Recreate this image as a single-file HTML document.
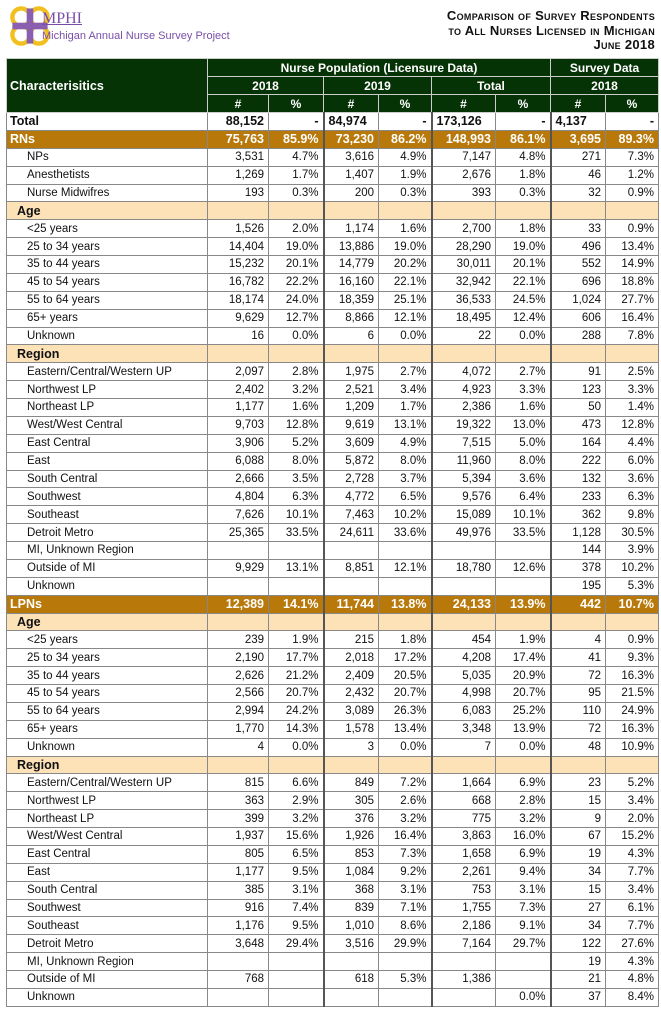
<!DOCTYPE html>
<html><head><meta charset="utf-8">
<style>
body{margin:0;width:661px;height:1010px;background:#fff;font-family:"Liberation Sans",sans-serif;position:relative;overflow:hidden}
.logo{position:absolute;left:8px;top:4px}
.title{position:absolute;right:6px;top:9px;text-align:right;font-weight:bold;font-variant:small-caps;font-size:13px;line-height:14.5px;color:#111;letter-spacing:0.3px}
table{position:absolute;left:6px;top:58px;border-collapse:collapse;table-layout:fixed;font-size:11.5px;color:#111}
td{border:1px solid #888;padding:0 4px;height:17.88px;text-align:right;white-space:nowrap;overflow:hidden;box-sizing:border-box}
td.l{text-align:left;padding-left:20px}
tr.h td{background:#063306;color:#fff;font-weight:bold;text-align:center;height:18px;border:1px solid #ccc;font-size:12px}
tr.h td.c0{text-align:left;padding-left:3px;font-size:12.5px}
tr.t td{font-weight:bold;font-size:12.5px}
tr.t td.l{padding-left:3px}
tr.r td{background:#b8780a;color:#fff;font-weight:bold;font-size:12.5px}
tr.r td.l{padding-left:3px}
tr.s td{background:#fde2b8;font-weight:bold;font-size:12.5px}
tr.s td.l{padding-left:10px}
td.g{border-left:2px solid #555}
</style></head><body>
<div class="logo">
<svg width="44" height="44" viewBox="0 0 40 40"><g fill="none" stroke="#f2c01e" stroke-width="4"><circle cx="12" cy="12" r="8"/><circle cx="28" cy="12" r="8"/><circle cx="12" cy="28" r="8"/><circle cx="28" cy="28" r="8"/></g><rect x="17" y="4" width="6" height="32" fill="#8a5fb0"/><rect x="4" y="17" width="32" height="6" fill="#8a5fb0"/></svg>
<span style="position:absolute;left:34px;top:6px;font-family:'Liberation Serif',serif;font-size:16px;color:#7a4ea8;text-decoration:underline">MPHI</span>
<span style="position:absolute;left:34px;top:26px;font-size:11px;color:#7a4ea8;white-space:nowrap">Michigan Annual Nurse Survey Project</span>
</div>
<div class="title">Comparison of Survey Respondents<br>to All Nurses Licensed in Michigan<br>June 2018</div>
<table>
<colgroup><col style="width:201px"><col style="width:61px"><col style="width:55px"><col style="width:55px"><col style="width:53px"><col style="width:64px"><col style="width:55px"><col style="width:55px"><col style="width:53px"></colgroup>
<tr class="h"><td class="c0" rowspan="3">Characterisitics</td><td colspan="6">Nurse Population (Licensure Data)</td><td colspan="2">Survey Data</td></tr>
<tr class="h"><td colspan="2">2018</td><td colspan="2">2019</td><td colspan="2">Total</td><td colspan="2">2018</td></tr>
<tr class="h"><td>#</td><td>%</td><td>#</td><td>%</td><td>#</td><td>%</td><td>#</td><td>%</td></tr>
<tr class="t"><td class="l">Total</td><td>88,152</td><td>-</td><td class="g" style="text-align:left">84,974</td><td>-</td><td class="g" style="text-align:left">173,126</td><td>-</td><td class="g" style="text-align:left">4,137</td><td>-</td></tr>
<tr class="r"><td class="l">RNs</td><td>75,763</td><td>85.9%</td><td class="g">73,230</td><td>86.2%</td><td class="g">148,993</td><td>86.1%</td><td class="g">3,695</td><td>89.3%</td></tr>
<tr><td class="l">NPs</td><td>3,531</td><td>4.7%</td><td class="g">3,616</td><td>4.9%</td><td class="g">7,147</td><td>4.8%</td><td class="g">271</td><td>7.3%</td></tr>
<tr><td class="l">Anesthetists</td><td>1,269</td><td>1.7%</td><td class="g">1,407</td><td>1.9%</td><td class="g">2,676</td><td>1.8%</td><td class="g">46</td><td>1.2%</td></tr>
<tr><td class="l">Nurse Midwifres</td><td>193</td><td>0.3%</td><td class="g">200</td><td>0.3%</td><td class="g">393</td><td>0.3%</td><td class="g">32</td><td>0.9%</td></tr>
<tr class="s"><td class="l">Age</td><td></td><td></td><td class="g"></td><td></td><td class="g"></td><td></td><td class="g"></td><td></td></tr>
<tr><td class="l">&lt;25 years</td><td>1,526</td><td>2.0%</td><td class="g">1,174</td><td>1.6%</td><td class="g">2,700</td><td>1.8%</td><td class="g">33</td><td>0.9%</td></tr>
<tr><td class="l">25 to 34 years</td><td>14,404</td><td>19.0%</td><td class="g">13,886</td><td>19.0%</td><td class="g">28,290</td><td>19.0%</td><td class="g">496</td><td>13.4%</td></tr>
<tr><td class="l">35 to 44 years</td><td>15,232</td><td>20.1%</td><td class="g">14,779</td><td>20.2%</td><td class="g">30,011</td><td>20.1%</td><td class="g">552</td><td>14.9%</td></tr>
<tr><td class="l">45 to 54 years</td><td>16,782</td><td>22.2%</td><td class="g">16,160</td><td>22.1%</td><td class="g">32,942</td><td>22.1%</td><td class="g">696</td><td>18.8%</td></tr>
<tr><td class="l">55 to 64 years</td><td>18,174</td><td>24.0%</td><td class="g">18,359</td><td>25.1%</td><td class="g">36,533</td><td>24.5%</td><td class="g">1,024</td><td>27.7%</td></tr>
<tr><td class="l">65+ years</td><td>9,629</td><td>12.7%</td><td class="g">8,866</td><td>12.1%</td><td class="g">18,495</td><td>12.4%</td><td class="g">606</td><td>16.4%</td></tr>
<tr><td class="l">Unknown</td><td>16</td><td>0.0%</td><td class="g">6</td><td>0.0%</td><td class="g">22</td><td>0.0%</td><td class="g">288</td><td>7.8%</td></tr>
<tr class="s"><td class="l">Region</td><td></td><td></td><td class="g"></td><td></td><td class="g"></td><td></td><td class="g"></td><td></td></tr>
<tr><td class="l">Eastern/Central/Western UP</td><td>2,097</td><td>2.8%</td><td class="g">1,975</td><td>2.7%</td><td class="g">4,072</td><td>2.7%</td><td class="g">91</td><td>2.5%</td></tr>
<tr><td class="l">Northwest LP</td><td>2,402</td><td>3.2%</td><td class="g">2,521</td><td>3.4%</td><td class="g">4,923</td><td>3.3%</td><td class="g">123</td><td>3.3%</td></tr>
<tr><td class="l">Northeast LP</td><td>1,177</td><td>1.6%</td><td class="g">1,209</td><td>1.7%</td><td class="g">2,386</td><td>1.6%</td><td class="g">50</td><td>1.4%</td></tr>
<tr><td class="l">West/West Central</td><td>9,703</td><td>12.8%</td><td class="g">9,619</td><td>13.1%</td><td class="g">19,322</td><td>13.0%</td><td class="g">473</td><td>12.8%</td></tr>
<tr><td class="l">East Central</td><td>3,906</td><td>5.2%</td><td class="g">3,609</td><td>4.9%</td><td class="g">7,515</td><td>5.0%</td><td class="g">164</td><td>4.4%</td></tr>
<tr><td class="l">East</td><td>6,088</td><td>8.0%</td><td class="g">5,872</td><td>8.0%</td><td class="g">11,960</td><td>8.0%</td><td class="g">222</td><td>6.0%</td></tr>
<tr><td class="l">South Central</td><td>2,666</td><td>3.5%</td><td class="g">2,728</td><td>3.7%</td><td class="g">5,394</td><td>3.6%</td><td class="g">132</td><td>3.6%</td></tr>
<tr><td class="l">Southwest</td><td>4,804</td><td>6.3%</td><td class="g">4,772</td><td>6.5%</td><td class="g">9,576</td><td>6.4%</td><td class="g">233</td><td>6.3%</td></tr>
<tr><td class="l">Southeast</td><td>7,626</td><td>10.1%</td><td class="g">7,463</td><td>10.2%</td><td class="g">15,089</td><td>10.1%</td><td class="g">362</td><td>9.8%</td></tr>
<tr><td class="l">Detroit Metro</td><td>25,365</td><td>33.5%</td><td class="g">24,611</td><td>33.6%</td><td class="g">49,976</td><td>33.5%</td><td class="g">1,128</td><td>30.5%</td></tr>
<tr><td class="l">MI, Unknown Region</td><td></td><td></td><td class="g"></td><td></td><td class="g"></td><td></td><td class="g">144</td><td>3.9%</td></tr>
<tr><td class="l">Outside of MI</td><td>9,929</td><td>13.1%</td><td class="g">8,851</td><td>12.1%</td><td class="g">18,780</td><td>12.6%</td><td class="g">378</td><td>10.2%</td></tr>
<tr><td class="l">Unknown</td><td></td><td></td><td class="g"></td><td></td><td class="g"></td><td></td><td class="g">195</td><td>5.3%</td></tr>
<tr class="r"><td class="l">LPNs</td><td>12,389</td><td>14.1%</td><td class="g">11,744</td><td>13.8%</td><td class="g">24,133</td><td>13.9%</td><td class="g">442</td><td>10.7%</td></tr>
<tr class="s"><td class="l">Age</td><td></td><td></td><td class="g"></td><td></td><td class="g"></td><td></td><td class="g"></td><td></td></tr>
<tr><td class="l">&lt;25 years</td><td>239</td><td>1.9%</td><td class="g">215</td><td>1.8%</td><td class="g">454</td><td>1.9%</td><td class="g">4</td><td>0.9%</td></tr>
<tr><td class="l">25 to 34 years</td><td>2,190</td><td>17.7%</td><td class="g">2,018</td><td>17.2%</td><td class="g">4,208</td><td>17.4%</td><td class="g">41</td><td>9.3%</td></tr>
<tr><td class="l">35 to 44 years</td><td>2,626</td><td>21.2%</td><td class="g">2,409</td><td>20.5%</td><td class="g">5,035</td><td>20.9%</td><td class="g">72</td><td>16.3%</td></tr>
<tr><td class="l">45 to 54 years</td><td>2,566</td><td>20.7%</td><td class="g">2,432</td><td>20.7%</td><td class="g">4,998</td><td>20.7%</td><td class="g">95</td><td>21.5%</td></tr>
<tr><td class="l">55 to 64 years</td><td>2,994</td><td>24.2%</td><td class="g">3,089</td><td>26.3%</td><td class="g">6,083</td><td>25.2%</td><td class="g">110</td><td>24.9%</td></tr>
<tr><td class="l">65+ years</td><td>1,770</td><td>14.3%</td><td class="g">1,578</td><td>13.4%</td><td class="g">3,348</td><td>13.9%</td><td class="g">72</td><td>16.3%</td></tr>
<tr><td class="l">Unknown</td><td>4</td><td>0.0%</td><td class="g">3</td><td>0.0%</td><td class="g">7</td><td>0.0%</td><td class="g">48</td><td>10.9%</td></tr>
<tr class="s"><td class="l">Region</td><td></td><td></td><td class="g"></td><td></td><td class="g"></td><td></td><td class="g"></td><td></td></tr>
<tr><td class="l">Eastern/Central/Western UP</td><td>815</td><td>6.6%</td><td class="g">849</td><td>7.2%</td><td class="g">1,664</td><td>6.9%</td><td class="g">23</td><td>5.2%</td></tr>
<tr><td class="l">Northwest LP</td><td>363</td><td>2.9%</td><td class="g">305</td><td>2.6%</td><td class="g">668</td><td>2.8%</td><td class="g">15</td><td>3.4%</td></tr>
<tr><td class="l">Northeast LP</td><td>399</td><td>3.2%</td><td class="g">376</td><td>3.2%</td><td class="g">775</td><td>3.2%</td><td class="g">9</td><td>2.0%</td></tr>
<tr><td class="l">West/West Central</td><td>1,937</td><td>15.6%</td><td class="g">1,926</td><td>16.4%</td><td class="g">3,863</td><td>16.0%</td><td class="g">67</td><td>15.2%</td></tr>
<tr><td class="l">East Central</td><td>805</td><td>6.5%</td><td class="g">853</td><td>7.3%</td><td class="g">1,658</td><td>6.9%</td><td class="g">19</td><td>4.3%</td></tr>
<tr><td class="l">East</td><td>1,177</td><td>9.5%</td><td class="g">1,084</td><td>9.2%</td><td class="g">2,261</td><td>9.4%</td><td class="g">34</td><td>7.7%</td></tr>
<tr><td class="l">South Central</td><td>385</td><td>3.1%</td><td class="g">368</td><td>3.1%</td><td class="g">753</td><td>3.1%</td><td class="g">15</td><td>3.4%</td></tr>
<tr><td class="l">Southwest</td><td>916</td><td>7.4%</td><td class="g">839</td><td>7.1%</td><td class="g">1,755</td><td>7.3%</td><td class="g">27</td><td>6.1%</td></tr>
<tr><td class="l">Southeast</td><td>1,176</td><td>9.5%</td><td class="g">1,010</td><td>8.6%</td><td class="g">2,186</td><td>9.1%</td><td class="g">34</td><td>7.7%</td></tr>
<tr><td class="l">Detroit Metro</td><td>3,648</td><td>29.4%</td><td class="g">3,516</td><td>29.9%</td><td class="g">7,164</td><td>29.7%</td><td class="g">122</td><td>27.6%</td></tr>
<tr><td class="l">MI, Unknown Region</td><td></td><td></td><td class="g"></td><td></td><td class="g"></td><td></td><td class="g">19</td><td>4.3%</td></tr>
<tr><td class="l">Outside of MI</td><td>768</td><td></td><td class="g">618</td><td>5.3%</td><td class="g">1,386</td><td></td><td class="g">21</td><td>4.8%</td></tr>
<tr><td class="l">Unknown</td><td></td><td></td><td class="g"></td><td></td><td class="g"></td><td>0.0%</td><td class="g">37</td><td>8.4%</td></tr>
</table>
</body></html>
